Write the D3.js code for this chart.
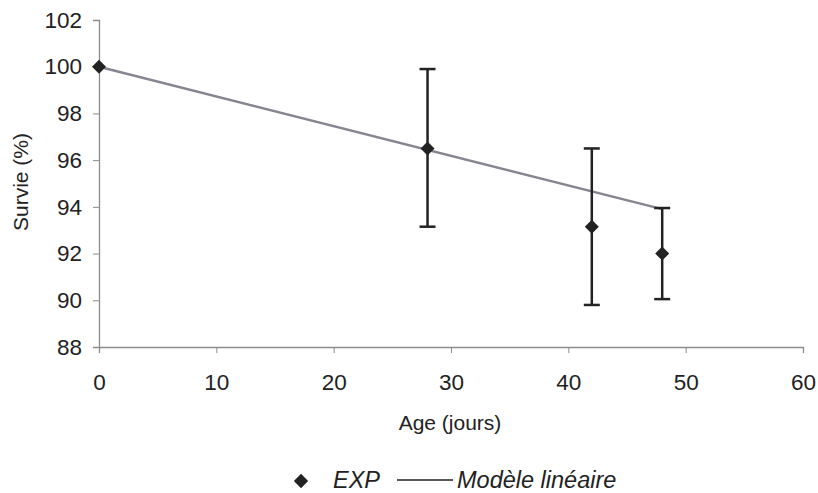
<!DOCTYPE html>
<html>
<head>
<meta charset="utf-8">
<script src="https://cdn.jsdelivr.net/npm/d3@7"></script>
<style>
  body { margin: 0; background: #fff; }
  text { font-family: "Liberation Sans", Arial, sans-serif; fill: #222; }
</style>
</head>
<body>
<svg id="chart" width="818" height="493"></svg>
<script>
// data
var ages = [0, 28, 42, 48];
var survie = [100, 96.5, 93.15, 92.0];
var errLow = [100, 93.15, 89.8, 90.05];
var errHigh = [100, 99.9, 96.5, 93.95];
var modelX = [0, 48];
var modelY = [100, 93.9];
var xTicks = [0, 10, 20, 30, 40, 50, 60];
var yTicks = [88, 90, 92, 94, 96, 98, 100, 102];

var svg = d3.select("#chart");

var x = d3.scaleLinear().domain([0, 60]).range([99, 803]);
var y = d3.scaleLinear().domain([88, 102]).range([347, 20]);

var axisColor = "#8c8c8c";

// y axis
var yAxis = svg.append("g")
  .attr("transform", "translate(" + x(0) + ",0)")
  .call(d3.axisLeft(y).tickValues(yTicks).tickSize(6).tickPadding(11).tickFormat(d3.format("d")));
yAxis.select(".domain").attr("stroke", axisColor).attr("stroke-width", 1.3);
yAxis.selectAll(".tick line").attr("stroke", axisColor);
yAxis.selectAll(".tick text").attr("font-size", 22.5).attr("fill", "#222")
  .attr("font-family", "Liberation Sans, Arial, sans-serif");

// x axis
var xAxis = svg.append("g")
  .attr("transform", "translate(0," + y(88) + ")")
  .call(d3.axisBottom(x).tickValues(xTicks).tickSize(6).tickPadding(21));
xAxis.select(".domain").attr("stroke", axisColor).attr("stroke-width", 1.3);
xAxis.selectAll(".tick line").attr("stroke", axisColor);
xAxis.selectAll(".tick text").attr("font-size", 22.5).attr("fill", "#222")
  .attr("font-family", "Liberation Sans, Arial, sans-serif");

// axis titles
svg.append("text")
  .attr("transform", "translate(28,182) rotate(-90)")
  .attr("text-anchor", "middle")
  .attr("font-size", 21)
  .text("Survie (%)");

svg.append("text")
  .attr("x", 450)
  .attr("y", 430)
  .attr("text-anchor", "middle")
  .attr("font-size", 21)
  .text("Age (jours)");

// linear model
var line = d3.line()
  .x(function(d, i) { return x(modelX[i]); })
  .y(function(d) { return y(d); });
svg.append("path")
  .datum(modelY)
  .attr("d", line)
  .attr("fill", "none")
  .attr("stroke", "#868692")
  .attr("stroke-width", 2.4);

// error bars
var bars = svg.selectAll(".err")
  .data(ages)
  .enter().append("g")
    .attr("class", "err")
    .attr("stroke", "#222")
    .attr("stroke-width", 2.5);
bars.append("line")
  .attr("x1", function(d) { return x(d); })
  .attr("x2", function(d) { return x(d); })
  .attr("y1", function(d, i) { return y(errLow[i]); })
  .attr("y2", function(d, i) { return y(errHigh[i]); });
bars.filter(function(d, i) { return errHigh[i] != errLow[i]; }).each(function(d) {
  var i = ages.indexOf(d);
  var g = d3.select(this);
  [errLow[i], errHigh[i]].forEach(function(v) {
    g.append("line")
      .attr("x1", x(d) - 8).attr("x2", x(d) + 8)
      .attr("y1", y(v)).attr("y2", y(v));
  });
});

// points
var diamond = d3.symbol().type(d3.symbolDiamond2).size(125);
svg.selectAll(".pt")
  .data(ages)
  .enter().append("path")
    .attr("class", "pt")
    .attr("d", diamond)
    .attr("transform", function(d, i) { return "translate(" + x(d) + "," + y(survie[i]) + ")"; })
    .attr("fill", "#222");

// legend
var leg = svg.append("g").attr("transform", "translate(0,480)");
leg.append("path")
  .attr("d", d3.symbol().type(d3.symbolDiamond2).size(130))
  .attr("transform", "translate(301,1)")
  .attr("fill", "#222");
leg.append("text")
  .attr("x", 333).attr("y", 8)
  .attr("font-size", 23.5).attr("font-style", "italic")
  .text("EXP");
leg.append("line")
  .attr("x1", 397).attr("x2", 453)
  .attr("y1", 0).attr("y2", 0)
  .attr("stroke", "#222").attr("stroke-width", 1.6);
leg.append("text")
  .attr("x", 457).attr("y", 8)
  .attr("font-size", 23.5).attr("font-style", "italic")
  .text("Modèle linéaire");
</script>
</body>
</html>
